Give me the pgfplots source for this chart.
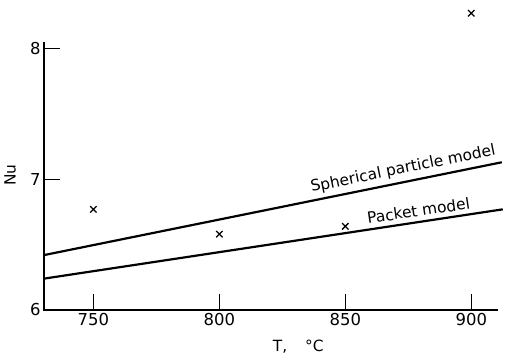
\documentclass[border=0pt]{standalone}
\usepackage{fontspec}
\setmainfont{DejaVu Sans}
\usepackage{pgfplots}
\pgfplotsset{compat=1.18}
\begin{document}
\begin{tikzpicture}
\useasboundingbox (-44bp,-52bp) rectangle (476bp,310bp);
\begin{axis}[
 at={(0,0)}, anchor=south west,
 width=454bp, height=268bp, scale only axis,
 xmin=730.4, xmax=910.6, ymin=6, ymax=8.05,
 axis x line*=bottom, axis y line*=left,
 axis line style={-, line width=1.8pt, black},
 xtick={750,800,850,900}, ytick={6,7,8},
 xtick pos=bottom, ytick pos=left,
 tick align=inside,
 major tick length=16bp,
 xtick style={line width=1.5pt, black},
 ytick style={line width=1.5pt, black},
 clip=false,
 ticklabel style={font=\fontsize{16.5}{18}\selectfont},
 /pgf/number format/assume math mode=true,
 /pgf/number format/1000 sep={},
]
\draw[line width=1.8pt, black] (rel axis cs:0,1) -- (rel axis cs:0,0) -- (rel axis cs:1,0);
\addplot[black, line width=2.2pt] coordinates {(730.4,6.42) (912.1,7.13)}
  node[pos=0.79, sloped, above, yshift=1bp, font=\fontsize{15.5}{17}\selectfont] {Spherical particle model};
\addplot[black, line width=2.2pt] coordinates {(730.4,6.24) (912.5,6.77)}
  node[pos=0.82, sloped, above, yshift=1bp, font=\fontsize{15.5}{17}\selectfont] {Packet model};
\addplot[only marks, mark=x, mark size=4.5bp, mark options={line width=1.3pt, black}] coordinates {
 (750,6.77) (800,6.58) (850,6.64) (900,8.27)};
\node[xshift=-34bp, rotate=90, font=\fontsize{15.5}{17}\selectfont] at (rel axis cs:0,0.504) {Nu};
\node[yshift=-37bp, font=\fontsize{15.5}{17}\selectfont] at (rel axis cs:0.56,0) {T,\hspace{18bp}°C};
\end{axis}
\end{tikzpicture}
\end{document}
